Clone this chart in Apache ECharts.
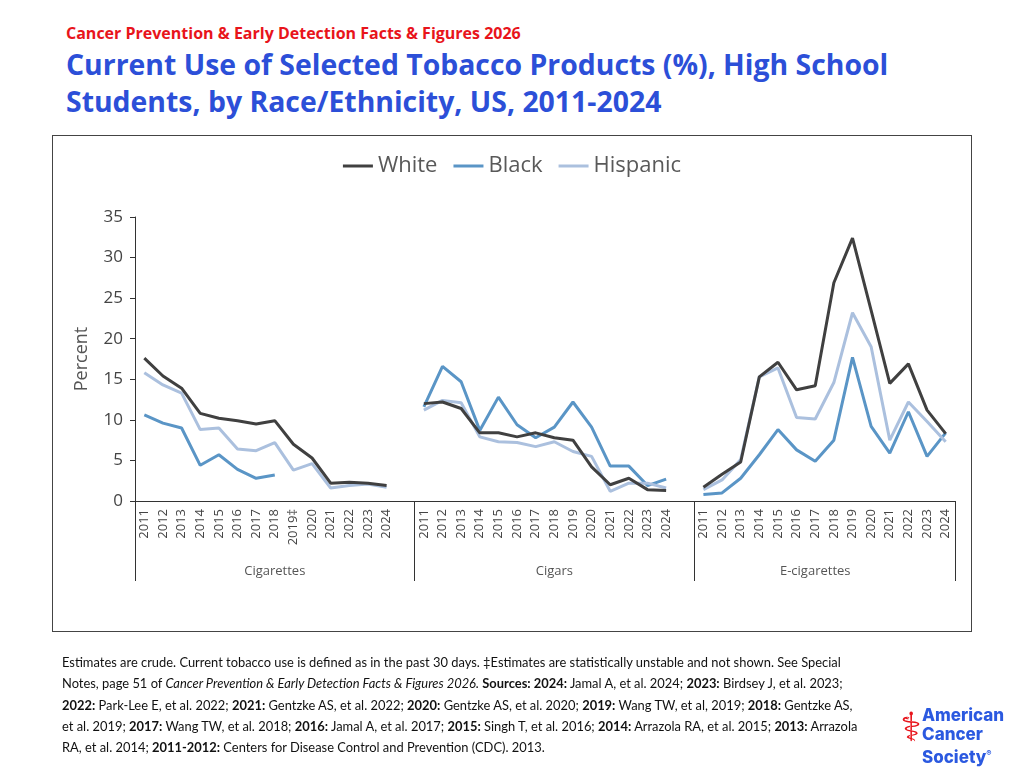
<!DOCTYPE html>
<html><head><meta charset="utf-8">
<script src="https://cdn.jsdelivr.net/npm/echarts@6/dist/echarts.min.js"></script>
<style>
body{margin:0;width:1024px;height:768px;background:#fff;font-family:"Open Sans",sans-serif;position:relative;overflow:hidden}
#t1{position:absolute;left:66px;top:22px;color:#e8141b;font-weight:bold;font-size:16px}
#t2{position:absolute;left:66px;top:46px;color:#2c4fd8;font-weight:bold;font-size:28.4px;line-height:37px}
#box{position:absolute;left:52px;top:135px;width:918px;height:495px;border:1px solid #444}
#c{position:absolute;left:0;top:0;width:1024px;height:768px}
#note{position:absolute;left:62px;top:652px;width:800px;font-family:Lato,sans-serif;font-size:12.9px;line-height:21.3px;color:#111}
#logo{position:absolute;left:922px;top:706px;color:#2b59e0;font-family:Inter,sans-serif;font-weight:800;font-size:17px;line-height:19px}
#logo2{position:absolute;left:900px;top:704px;color:#e8141b;font-size:40px;font-weight:bold;font-family:"DejaVu Sans"}
</style></head><body>
<div id="t1">Cancer Prevention &amp; Early Detection Facts &amp; Figures 2026</div>
<div id="t2">Current Use of Selected Tobacco Products (%), High School<br>Students, by Race/Ethnicity, US, 2011-2024</div>
<div id="box"></div>
<div id="c"></div>
<div id="note">Estimates are crude. Current tobacco use is defined as in the past 30 days. ‡Estimates are statistically unstable and not shown. See Special Notes, page 51 of <i>Cancer Prevention &amp; Early Detection Facts &amp; Figures 2026.</i> <b>Sources: 2024:</b> Jamal A, et al. 2024; <b>2023:</b> Birdsey J, et al. 2023; <b>2022:</b> Park-Lee E, et al. 2022; <b>2021:</b> Gentzke AS, et al. 2022; <b>2020:</b> Gentzke AS, et al. 2020; <b>2019:</b> Wang TW, et al, 2019; <b>2018:</b> Gentzke AS, et al. 2019; <b>2017:</b> Wang TW, et al. 2018; <b>2016:</b> Jamal A, et al. 2017; <b>2015:</b> Singh T, et al. 2016; <b>2014:</b> Arrazola RA, et al. 2015; <b>2013:</b> Arrazola RA, et al. 2014; <b>2011-2012:</b> Centers for Disease Control and Prevention (CDC). 2013.</div>
<div id="logo2">⚕</div>
<div id="logo">American<br>Cancer<br>Society<sup style="font-size:8px">®</sup></div>
<script>
const yearsCig = ['2011','2012','2013','2014','2015','2016','2017','2018','2019‡','2020','2021','2022','2023','2024'];
const yearsStd = ['2011','2012','2013','2014','2015','2016','2017','2018','2019','2020','2021','2022','2023','2024'];
const groups = ['Cigarettes','Cigars','E-cigarettes'];
const seriesNames = ['White','Black','Hispanic'];

const whiteCig = [17.6,15.4,13.9,10.8,10.2,9.9,9.5,9.9,7.0,5.3,2.2,2.3,2.2,1.9];
const blackCig = [10.6,9.6,9.0,4.4,5.7,3.9,2.8,3.2,null,null,null,null,null,null];
const hispCig  = [15.8,14.3,13.3,8.8,9.0,6.4,6.2,7.2,3.8,4.6,1.6,1.9,2.1,1.7];

const whiteCigar = [12.0,12.2,11.4,8.4,8.4,7.9,8.4,7.8,7.5,4.2,2.0,2.8,1.4,1.3];
const blackCigar = [11.6,16.6,14.7,8.7,12.8,9.4,7.8,9.1,12.2,9.1,4.3,4.3,1.9,2.7];
const hispCigar  = [11.2,12.4,12.1,7.9,7.3,7.2,6.7,7.3,6.1,5.5,1.2,2.2,2.2,1.6];

const whiteEcig = [1.7,3.3,4.8,15.3,17.1,13.7,14.2,26.9,32.4,23.5,14.5,16.9,11.2,8.3];
const blackEcig = [0.8,1.0,2.8,5.7,8.8,6.3,4.9,7.5,17.7,9.2,5.9,11.0,5.5,8.4];
const hispEcig  = [1.4,2.6,5.1,15.3,16.4,10.3,10.1,14.6,23.2,19.0,7.5,12.2,9.8,7.3];

const cats = [...yearsCig, '', ...yearsStd.map(y=>y+' '), ' ', ...yearsStd.map(y=>y+'  ')];
const join = (a,b,c)=>[...a,null,...b,null,...c];
const groupCats = cats.map((_,i)=> i===7?groups[0]: i===22?groups[1]: i===36?groups[2]: '');
const colors = ['#404040','#5a95c6','#abc0de'];
const data = [join(whiteCig,whiteCigar,whiteEcig), join(blackCig,blackCigar,blackEcig), join(hispCig,hispCigar,hispEcig)];

const chart = echarts.init(document.getElementById('c'));
chart.setOption({
  animation:false,
  textStyle:{fontFamily:'Open Sans'},
  legend:{top:150,left:'center',itemWidth:30,itemHeight:3,itemGap:16,icon:'rect',
    textStyle:{fontSize:22,color:'#595959',fontFamily:'Open Sans'},data:seriesNames},
  grid:{left:135,right:69,top:217,bottom:267},
  xAxis:[{type:'category',data:cats,boundaryGap:true,
    axisLine:{lineStyle:{color:'#333'}},axisTick:{show:false},
    axisLabel:{rotate:90,interval:0,fontSize:13,color:'#444',margin:8,fontFamily:'Open Sans',formatter:v=>v.trim()}},
   {type:'category',data:groupCats,position:'bottom',offset:0,boundaryGap:true,
    axisLine:{show:false},
    axisTick:{show:true,length:80,interval:(i)=>i===0||i===15||i===30,lineStyle:{color:'#333'}},
    axisLabel:{interval:0,fontSize:13,color:'#555',margin:64,fontFamily:'Open Sans'}}],
  yAxis:{type:'value',min:0,max:35,interval:5,name:'Percent',nameLocation:'middle',nameGap:44,
    nameTextStyle:{fontSize:18,color:'#555',fontFamily:'Open Sans'},
    axisLine:{show:true,lineStyle:{color:'#333'}},axisTick:{show:true,inside:false,length:5},
    axisLabel:{fontSize:17,color:'#444',margin:12,fontFamily:'Open Sans'},splitLine:{show:false}},
  series:seriesNames.map((n,k)=>({name:n,type:'line',data:data[k],xAxisIndex:0,
    showSymbol:false,connectNulls:false,lineStyle:{width:3,color:colors[k]},itemStyle:{color:colors[k]},z:k===0?3:2}))
});
</script>
</body></html>
